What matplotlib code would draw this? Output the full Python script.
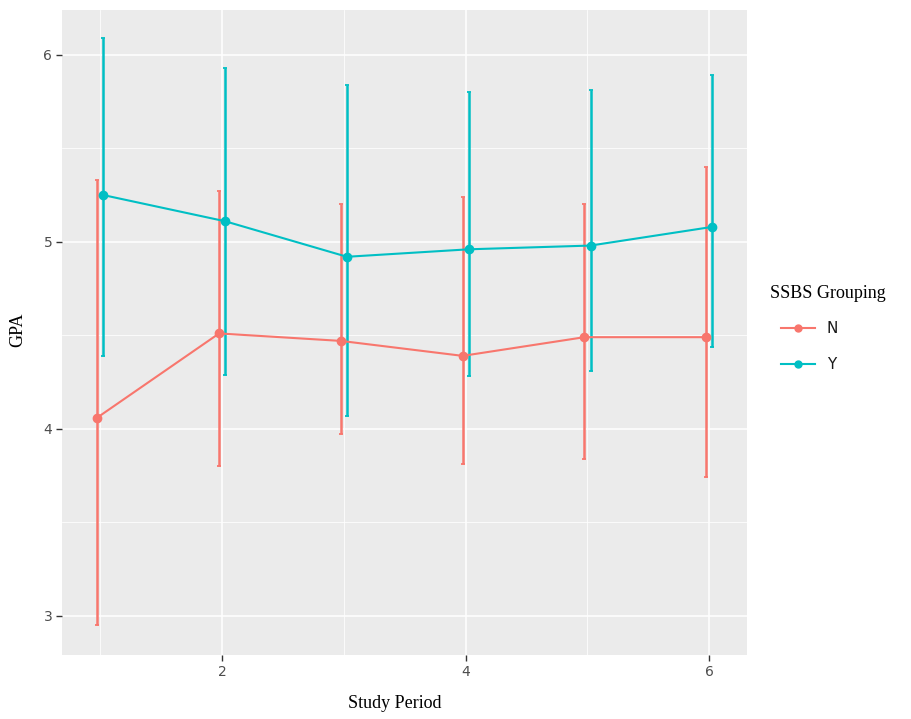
import matplotlib
matplotlib.use("Agg")
import matplotlib.pyplot as plt
from matplotlib.lines import Line2D
import numpy as np

periods = [1, 2, 3, 4, 5, 6]
groups = ["N", "Y"]
colors = {"N": "#F8766D", "Y": "#00BFC4"}

gpa_mean = {
    "N": [4.06, 4.51, 4.47, 4.39, 4.49, 4.49],
    "Y": [5.25, 5.11, 4.92, 4.96, 4.98, 5.08],
}
gpa_low = {
    "N": [2.95, 3.80, 3.97, 3.81, 3.84, 3.74],
    "Y": [4.39, 4.29, 4.07, 4.28, 4.31, 4.44],
}
gpa_high = {
    "N": [5.33, 5.27, 5.20, 5.24, 5.20, 5.40],
    "Y": [6.09, 5.93, 5.84, 5.80, 5.81, 5.89],
}
dodge = {"N": -0.025, "Y": 0.025}

fig = plt.figure(figsize=(9.11, 7.19), dpi=100)
ax = fig.add_axes([62/911, 1-655/719, (747-62)/911, (655-10)/719])
ax.set_facecolor("#EBEBEB")
for s in ax.spines.values():
    s.set_visible(False)

ax.set_xlim(0.685, 6.31)
ax.set_ylim(2.79, 6.24)
ax.set_xticks([2, 4, 6])
ax.set_yticks([3, 4, 5, 6])
ax.set_xticks([1, 3, 5], minor=True)
ax.set_yticks([3.5, 4.5, 5.5], minor=True)
ax.grid(which="major", color="white", linewidth=1.1)
ax.grid(which="minor", color="white", linewidth=0.55)
ax.set_axisbelow(True)
ax.tick_params(which="major", length=4, width=1, color="#333333",
               labelsize=10, labelcolor="#4D4D4D", pad=3)
ax.tick_params(which="minor", length=0)

for g in groups:
    x = np.array(periods) + dodge[g]
    m = np.array(gpa_mean[g])
    lo = m - np.array(gpa_low[g])
    hi = np.array(gpa_high[g]) - m
    ax.errorbar(x, m, yerr=[lo, hi], color=colors[g], linewidth=1.5,
                elinewidth=1.8, capsize=1.3, capthick=1.3,
                marker="o", markersize=6, zorder=3)

fig.text(18/911, 1-330/719, "GPA", rotation=90, ha="center", va="center",
         fontsize=13, family="Liberation Serif")
fig.text(395/911, 1-703/719, "Study Period", ha="center", va="center",
         fontsize=13, family="Liberation Serif")

fig.text(770/911, 1-294/719, "SSBS Grouping", ha="left", va="center",
         fontsize=13, family="Liberation Serif")
handles = [Line2D([0], [0], color=colors[g], marker="o", markersize=5,
                  linewidth=1.5) for g in groups]
leg = fig.legend(handles, groups, loc="upper left",
                 bbox_to_anchor=(781/911, 1-321/719), frameon=False,
                 fontsize=11, handlelength=2.2, labelspacing=1.4,
                 borderaxespad=0, borderpad=0, handletextpad=0.8)
for t in leg.get_texts():
    t.set_color("#1A1A1A")

fig.savefig("out.png", dpi=100)
